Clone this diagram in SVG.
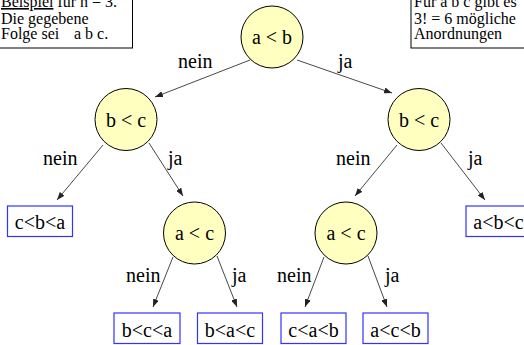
<svg xmlns="http://www.w3.org/2000/svg" width="524" height="345" viewBox="0 0 524 345" font-family="Liberation Serif">
<defs>
<style>
.n circle{fill:#ffffc0;stroke:#000;stroke-width:1}
.l rect{fill:#fff;stroke:#3333ff;stroke-width:1.2}
.note rect{fill:#fff;stroke:#000;stroke-width:1}
.t16{font-size:16px;fill:#000}
.t20{font-size:20px;fill:#000}
.mid{text-anchor:middle}
#edges line{stroke:#333;stroke-width:0.9;marker-end:url(#ah)}
</style>
<marker id="ah" markerUnits="userSpaceOnUse" markerWidth="8" markerHeight="6" refX="8" refY="3" orient="auto">
<path d="M0,0 L8,3 L0,6 z" fill="#222"/>
</marker>
</defs>
<rect width="524" height="345" fill="#fff"/>

<g id="note-left" class="note" font-family="Liberation Serif">
<rect x="-1" y="-20" width="133.5" height="68"/>
<text class="t16" x="1" y="7"><tspan text-decoration="underline">Beispiel</tspan> für n = 3.</text>
<text class="t16" x="1" y="23.5">Die gegebene</text>
<text class="t16" x="1" y="39">Folge sei</text>
<text class="t16" x="74" y="39">a b c.</text>
</g>

<g id="note-right" class="note" font-family="Liberation Serif">
<rect x="411" y="-20" width="130" height="68"/>
<text class="t16" x="414" y="7">Für a b c gibt es</text>
<text class="t16" x="414" y="23.5">3! = 6 mögliche</text>
<text class="t16" x="414" y="39">Anordnungen</text>
</g>

<g id="edges" font-family="Liberation Serif">
<line x1="250" y1="60" x2="155" y2="97"/>
<line x1="297" y1="60" x2="392" y2="93"/>
<line x1="103" y1="145" x2="57" y2="200"/>
<line x1="149" y1="143" x2="183" y2="196"/>
<line x1="397" y1="145" x2="355" y2="196"/>
<line x1="441" y1="143" x2="485" y2="200"/>
<line x1="173" y1="257" x2="153" y2="307"/>
<line x1="217" y1="256" x2="237" y2="307"/>
<line x1="324" y1="257" x2="305" y2="307"/>
<line x1="368" y1="256" x2="387" y2="307"/>
<g id="edge-labels">
<text class="t20" x="178" y="68">nein</text>
<text class="t20" x="338" y="68">ja</text>
<text class="t20" x="43" y="165">nein</text>
<text class="t20" x="168" y="165">ja</text>
<text class="t20" x="336" y="165">nein</text>
<text class="t20" x="468" y="165">ja</text>
<text class="t20" x="126" y="282">nein</text>
<text class="t20" x="232" y="282">ja</text>
<text class="t20" x="277" y="282">nein</text>
<text class="t20" x="385" y="282">ja</text>
</g>
</g>

<g id="n-root" class="n" font-family="Liberation Serif"><circle cx="272" cy="37" r="31"/><text class="t20 mid" x="272" y="44">a &lt; b</text></g>
<g id="n-bc-left" class="n" font-family="Liberation Serif"><circle cx="126" cy="119.5" r="31"/><text class="t20 mid" x="126" y="126.5">b &lt; c</text></g>
<g id="n-bc-right" class="n" font-family="Liberation Serif"><circle cx="419" cy="119.5" r="31"/><text class="t20 mid" x="419" y="126.5">b &lt; c</text></g>
<g id="n-ac-left" class="n" font-family="Liberation Serif"><circle cx="194.5" cy="233" r="31"/><text class="t20 mid" x="194.5" y="240">a &lt; c</text></g>
<g id="n-ac-right" class="n" font-family="Liberation Serif"><circle cx="346" cy="233" r="31"/><text class="t20 mid" x="346" y="240">a &lt; c</text></g>

<g id="leaf-cba" class="l" font-family="Liberation Serif"><rect x="7.5" y="206" width="65" height="30.5"/><text class="t20 mid" x="40" y="229">c&lt;b&lt;a</text></g>
<g id="leaf-abc" class="l" font-family="Liberation Serif"><rect x="466" y="206" width="65" height="30.5"/><text class="t20 mid" x="498.5" y="229">a&lt;b&lt;c</text></g>
<g id="leaf-bca" class="l" font-family="Liberation Serif"><rect x="114" y="313" width="66" height="30.5"/><text class="t20 mid" x="147" y="336.5">b&lt;c&lt;a</text></g>
<g id="leaf-bac" class="l" font-family="Liberation Serif"><rect x="197.5" y="313" width="65" height="30.5"/><text class="t20 mid" x="230" y="336.5">b&lt;a&lt;c</text></g>
<g id="leaf-cab" class="l" font-family="Liberation Serif"><rect x="281" y="313" width="65" height="30.5"/><text class="t20 mid" x="313.5" y="336.5">c&lt;a&lt;b</text></g>
<g id="leaf-acb" class="l" font-family="Liberation Serif"><rect x="363" y="313" width="65" height="30.5"/><text class="t20 mid" x="395.5" y="336.5">a&lt;c&lt;b</text></g>
</svg>
